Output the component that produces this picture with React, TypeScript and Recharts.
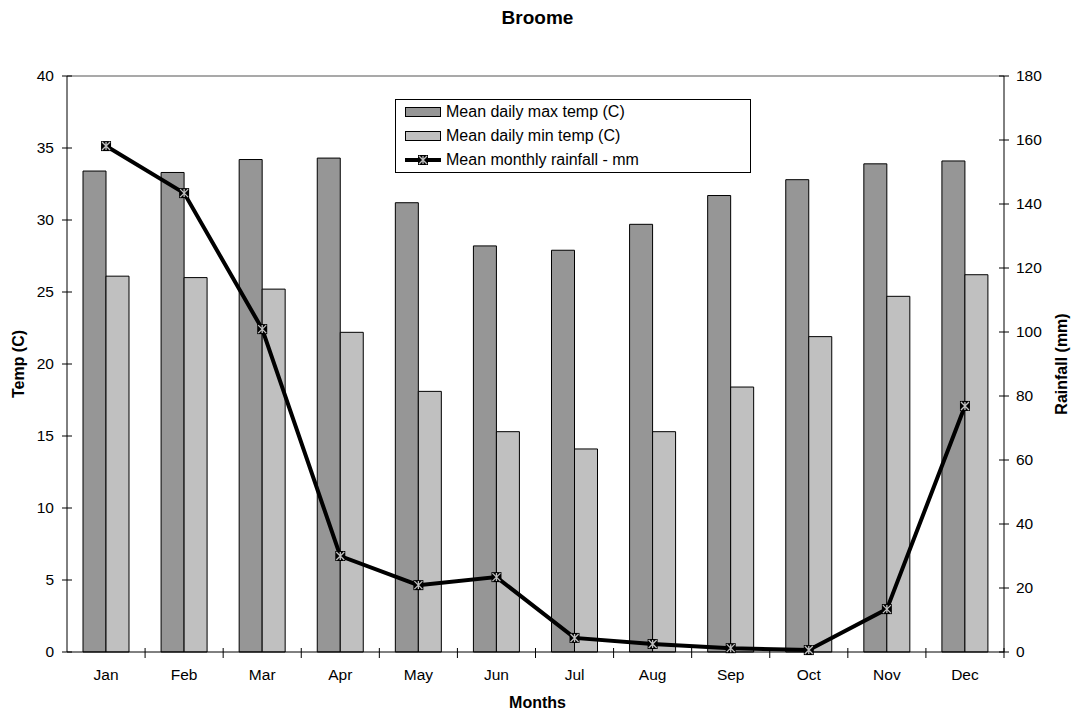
import {
  Bar,
  ComposedChart,
  Line,
  ReferenceLine,
  XAxis,
  YAxis,
} from 'recharts'

const months = ['Jan', 'Feb', 'Mar', 'Apr', 'May', 'Jun', 'Jul', 'Aug', 'Sep', 'Oct', 'Nov', 'Dec']
const maxTemp = [33.4, 33.3, 34.2, 34.3, 31.2, 28.2, 27.9, 29.7, 31.7, 32.8, 33.9, 34.1]
const minTemp = [26.1, 26.0, 25.2, 22.2, 18.1, 15.3, 14.1, 15.3, 18.4, 21.9, 24.7, 26.2]
const rainfall = [158.1, 143.4, 100.9, 30.0, 20.9, 23.4, 4.4, 2.5, 1.2, 0.6, 13.4, 76.9]

const tempTicks = [0, 5, 10, 15, 20, 25, 30, 35, 40]
const rainTicks = [0, 20, 40, 60, 80, 100, 120, 140, 160, 180]

const data = months.map((m, i) => ({
  month: m,
  max: maxTemp[i],
  min: minTemp[i],
  rain: rainfall[i],
}))

const W = 1075
const H = 716
const PLOT_LEFT = 67
const PLOT_RIGHT = 1004
const PLOT_TOP = 76
const PLOT_BOTTOM = 652
const BAND = (PLOT_RIGHT - PLOT_LEFT) / months.length
const FONT = '"Liberation Sans", Arial, sans-serif'
const TICK_SIZE = 15.5

const MAX_FILL = '#969696'
const MIN_FILL = '#c0c0c0'

function LeftTick(props: any) {
  const { y, payload } = props
  return (
    <g>
      <line x1={PLOT_LEFT - 5} x2={PLOT_LEFT + 5} y1={y} y2={y} stroke="#000" />
      <text x={PLOT_LEFT - 13} y={y} dy="0.35em" textAnchor="end" fontSize={TICK_SIZE} fill="#000" fontFamily={FONT}>
        {payload.value}
      </text>
    </g>
  )
}

function RightTick(props: any) {
  const { y, payload } = props
  return (
    <g>
      <line x1={PLOT_RIGHT - 5} x2={PLOT_RIGHT + 5} y1={y} y2={y} stroke="#000" />
      <text x={PLOT_RIGHT + 12} y={y} dy="0.35em" textAnchor="start" fontSize={TICK_SIZE} fill="#000" fontFamily={FONT}>
        {payload.value}
      </text>
    </g>
  )
}

function MonthTick(props: any) {
  const { x, payload } = props
  const edge = x + BAND / 2
  return (
    <g>
      <line x1={edge} x2={edge} y1={PLOT_BOTTOM - 4} y2={PLOT_BOTTOM + 6} stroke="#000" />
      <text x={x} y={PLOT_BOTTOM + 23} dy="0.35em" textAnchor="middle" fontSize={TICK_SIZE} fill="#000" fontFamily={FONT}>
        {payload.value}
      </text>
    </g>
  )
}

// black square with a light star, as used on the rainfall line
function StarMarker({ cx, cy, size = 5 }: { cx: number; cy: number; size?: number }) {
  const s = size
  const k = s - 1
  return (
    <g>
      <rect x={cx - s} y={cy - s} width={s * 2} height={s * 2} fill="#000" />
      <path
        d={`M${cx - k},${cy - k}L${cx + k},${cy + k}M${cx + k},${cy - k}L${cx - k},${cy + k}M${cx},${cy - k}L${cx},${cy + k}`}
        stroke={MIN_FILL}
        strokeWidth={1.3}
      />
    </g>
  )
}

function RainDot(props: any) {
  const { cx, cy, index } = props
  if (cx == null || cy == null) return <g key={index} />
  return <StarMarker key={index} cx={cx} cy={cy} />
}

function LegendBox() {
  const row = { display: 'flex', alignItems: 'center', height: 24 }
  const swatch = (fill: string) => (
    <span style={{ display: 'inline-block', width: 34, height: 8, background: fill, border: '1px solid #000', marginRight: 5 }} />
  )
  return (
    <div
      style={{
        position: 'absolute',
        left: 395,
        top: 99,
        border: '1px solid #000',
        background: '#fff',
        padding: '0 0 0 9px',
        fontFamily: FONT,
        fontSize: 16,
        color: '#000',
        width: 356,
        boxSizing: 'border-box',
      }}
    >
      <div style={row}>
        {swatch(MAX_FILL)}
        Mean daily max temp (C)
      </div>
      <div style={row}>
        {swatch(MIN_FILL)}
        Mean daily min temp (C)
      </div>
      <div style={row}>
        <svg width={36} height={12} style={{ marginRight: 5 }}>
          <line x1={0} x2={36} y1={6} y2={6} stroke="#000" strokeWidth={4} />
          <StarMarker cx={18} cy={6} />
        </svg>
        Mean monthly rainfall - mm
      </div>
    </div>
  )
}

const axisTitle = {
  position: 'absolute' as const,
  fontWeight: 'bold',
  fontSize: 16,
  whiteSpace: 'nowrap' as const,
  lineHeight: '18px',
}

export default function App() {
  return (
    <div style={{ position: 'absolute', left: 0, top: 0, width: W, height: H, background: '#fff', fontFamily: FONT }}>
      <div style={{ ...axisTitle, top: 7, left: 0, width: W, textAlign: 'center', fontSize: 19, lineHeight: '22px' }}>
        Broome
      </div>
      <ComposedChart
        width={W}
        height={H}
        data={data}
        margin={{ top: PLOT_TOP, right: 0, bottom: 0, left: 0 }}
        barCategoryGap={16}
        barGap={0}
      >
        <XAxis
          dataKey="month"
          height={H - PLOT_BOTTOM}
          tick={<MonthTick />}
          tickLine={false}
          axisLine={{ stroke: '#000' }}
          interval={0}
        />
        <YAxis
          yAxisId="temp"
          width={PLOT_LEFT}
          domain={[0, 40]}
          ticks={tempTicks}
          tick={<LeftTick />}
          tickLine={false}
          axisLine={{ stroke: '#000' }}
        />
        <YAxis
          yAxisId="rain"
          orientation="right"
          width={W - PLOT_RIGHT}
          domain={[0, 180]}
          ticks={rainTicks}
          tick={<RightTick />}
          tickLine={false}
          axisLine={{ stroke: '#000' }}
        />
        {/* top edge of the plot frame */}
        <ReferenceLine yAxisId="temp" y={40} stroke="#8c8c8c" strokeWidth={1.5} />
        <Bar yAxisId="temp" dataKey="max" fill={MAX_FILL} stroke="#000" strokeWidth={1} isAnimationActive={false} />
        <Bar yAxisId="temp" dataKey="min" fill={MIN_FILL} stroke="#000" strokeWidth={1} isAnimationActive={false} />
        <Line
          yAxisId="rain"
          type="linear"
          dataKey="rain"
          stroke="#000"
          strokeWidth={4}
          dot={<RainDot />}
          activeDot={false}
          isAnimationActive={false}
        />
      </ComposedChart>
      <LegendBox />
      <div style={{ ...axisTitle, top: 694, left: 0, width: W, textAlign: 'center' }}>
        Months
      </div>
      <div
        style={{
          ...axisTitle,
          left: 19,
          top: (PLOT_TOP + PLOT_BOTTOM) / 2,
          transform: 'translate(-50%, -50%) rotate(-90deg)',
        }}
      >
        Temp (C)
      </div>
      <div
        style={{
          ...axisTitle,
          left: 1062,
          top: (PLOT_TOP + PLOT_BOTTOM) / 2,
          transform: 'translate(-50%, -50%) rotate(-90deg)',
        }}
      >
        Rainfall (mm)
      </div>
    </div>
  )
}
